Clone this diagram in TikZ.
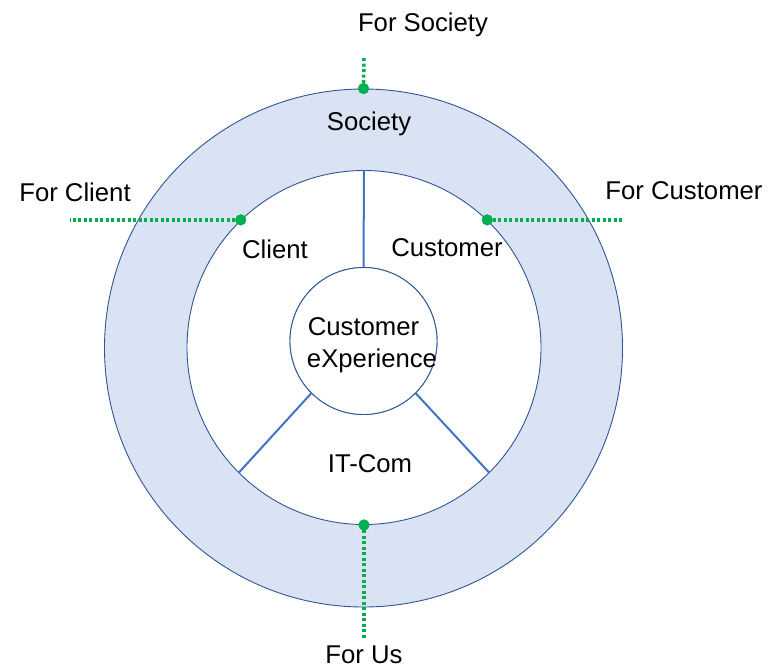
\documentclass[tikz,border=0pt]{standalone}
\usepackage{fontspec}
\setmainfont{Liberation Sans}
\definecolor{ringfill}{HTML}{DAE3F3}
\definecolor{ringline}{HTML}{2F5597}
\definecolor{spokecol}{HTML}{4472C4}
\definecolor{tagcol}{HTML}{00B050}
\begin{document}
\begin{tikzpicture}[x=1pt,y=-1pt,
  ring/.style={circle, draw=ringline, line width=0.9pt, inner sep=0pt},
  spokeline/.style={draw=spokecol, line width=2pt},
  tagline/.style={draw=tagcol, line width=3.5pt, dash pattern=on 3pt off 2.5pt},
  tagdot/.style={circle, fill=tagcol, inner sep=0pt, minimum size=11pt},
  lbl/.style={font=\fontsize{25.7}{32}\selectfont, inner sep=0pt, anchor=base, text=black}
]
\useasboundingbox (0,0) rectangle (779,667);

% circles
\node[ring, fill=ringfill, minimum size=518pt] (outer) at (363.5,348) {};
\node[ring, fill=white, minimum size=354pt] (inner) at (364,347.5) {};

% spokes
\node[ring, fill=white, minimum size=147pt] (core) at (363.5,341) {};
\draw[spokeline] (core.north) -- (inner.north);
\draw[spokeline] (core.-135) -- (inner.-135);
\draw[spokeline] (core.-45) -- (inner.-45);
\node[ring, fill=white, minimum size=147pt] at (core.center) {};

% tag dots
\node[tagdot] (dsoc) at (outer.north) {};
\node[tagdot] (dus) at (inner.south) {};
\node[tagdot] (dcli) at (inner.134) {};
\node[tagdot] (dcus) at (inner.46) {};

% free ends
\coordinate (esoc) at (364,58);
\coordinate (eus) at (364,640);
\coordinate (ecli) at (70,0 |- dcli);
\coordinate (ecus) at (622,0 |- dcus);

\draw[tagline] (dsoc.center) -- (esoc);
\draw[tagline] (dus.center) -- (eus);
\draw[tagline] (dcli.center) -- (ecli);
\draw[tagline] (dcus.center) -- (ecus);
\node[tagdot] at (dsoc.center) {};
\node[tagdot] at (dus.center) {};
\node[tagdot] at (dcli.center) {};
\node[tagdot] at (dcus.center) {};

% labels
\node[lbl] (tsoc) at (423,31) {For Society};
\node[lbl] (lsoc) at (369,130) {Society};
\node[lbl] (tcli) at (75,201) {For Client};
\node[lbl] (tcus) at (684,199) {For Customer};
\node[lbl] (lcli) at (275,258) {Client};
\node[lbl] (lcus) at (447,256) {Customer};
\node[lbl] (lcx1) at (363.5,335) {Customer};
\node[lbl] (lcx2) at (372,367) {eXperience};
\node[lbl] (lit) at (370,472) {IT-Com};
\node[lbl] (tus) at (364,663) {For Us};
\end{tikzpicture}
\end{document}
